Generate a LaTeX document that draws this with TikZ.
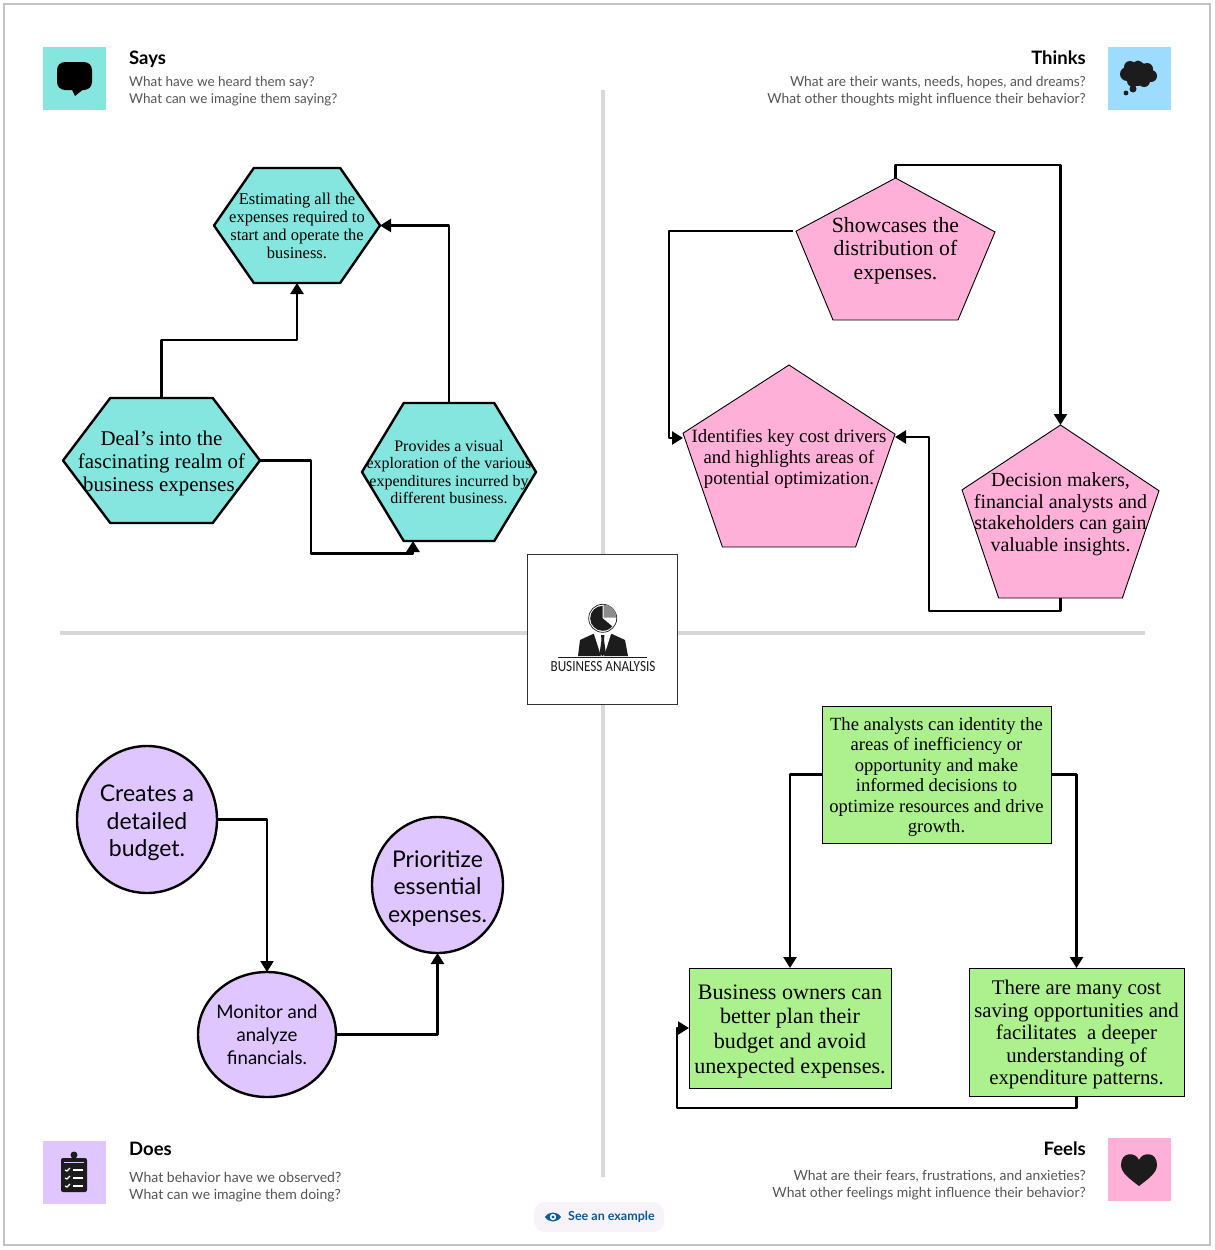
\documentclass[tikz,border=0pt]{standalone}
\usepackage{fontspec}
\usepackage{xcolor}
\usetikzlibrary{arrows.meta,positioning,shapes.geometric,calc,backgrounds}
\setmainfont{Liberation Serif}
\setsansfont{Lato}
\newfontfamily\logofont{Carlito}
\definecolor{Teal}{HTML}{84E6DE}
\definecolor{Sky}{HTML}{9EDCFF}
\definecolor{Lilac}{HTML}{DFC6FF}
\definecolor{Rose}{HTML}{FFB0D8}
\definecolor{Lime}{HTML}{ADF08E}
\definecolor{Rule}{HTML}{D8D8D8}
\definecolor{Frame}{HTML}{C4C2C6}
\definecolor{Ink}{HTML}{1C1C1C}
\definecolor{Muted}{HTML}{555555}
\definecolor{Link}{HTML}{0B5A9C}
\definecolor{Pill}{HTML}{F7F3F8}
\newcommand{\fs}[2]{\fontsize{#1}{#2}\selectfont}
\newcommand{\topgap}[1]{\rule{0pt}{#1pt}}
% outlines behind the text nodes
\newcommand{\hexoutline}[1]{
  \draw[hexline] (#1.west) -- ($(#1.north west)!.24!(#1.north east)$) -- ($(#1.north west)!.76!(#1.north east)$)
    -- (#1.east) -- ($(#1.south west)!.76!(#1.south east)$) -- ($(#1.south west)!.24!(#1.south east)$) -- cycle;
}
\newcommand{\pentoutline}[1]{
  \draw[pentline] (#1.north) -- ($(#1.north east)!.38!(#1.south east)$) coordinate (#1-r)
    -- ($(#1.south east)!.186!(#1.south west)$) -- ($(#1.south west)!.186!(#1.south east)$)
    -- ($(#1.north west)!.375!(#1.south west)$) coordinate (#1-l) -- cycle;
}
\begin{document}
\begin{tikzpicture}[
  x=1pt,y=-1pt,
  hexbox/.style={inner sep=0pt,outer sep=0pt,align=center},
  hexline/.style={draw=black,line width=2.4pt,line join=round,fill=Teal},
  pentbox/.style={inner sep=0pt,outer sep=0pt,align=center},
  pentline/.style={draw=black,line width=0.9pt,fill=Rose},
  boxpurple/.style={ellipse,draw=black,line width=2.4pt,fill=Lilac,inner sep=-14pt,outer sep=0pt,align=center,font=\sffamily\fs{23}{27.5}},
  boxgreen/.style={draw=black,line width=0.9pt,fill=Lime,inner sep=0pt,outer sep=0pt,align=center},
  tile/.style={inner sep=0pt,outer sep=0pt,minimum size=63pt},
  headtext/.style={inner sep=0pt,font=\sffamily\bfseries\fs{18.5}{20},text=black},
  asktext/.style={inner sep=0pt,font=\sffamily\fs{#1}{17},text=Muted},
  arrow/.style={-{Triangle[length=11pt,width=13pt]},line width=2.4pt,draw=black,line join=round}
]
\useasboundingbox (0,0) rectangle (1215,1250);
\begin{scope}[on background layer]
\fill[white] (0,0) rectangle (1215,1250);
\draw[Frame,line width=1.2pt] (4,4) rectangle (1210,1245);
\draw[Rule,line width=3.6pt] (603,90) -- (603,1177);
\draw[Rule,line width=3.6pt] (60,633) -- (1145,633);
\end{scope}
% quadrant headers
\node[tile,fill=Teal] (saystile) at (74.5,78.5) {};
\node[tile,fill=Sky] (thinkstile) at (1139.5,78.5) {};
\node[tile,fill=Lilac] (doestile) at (74.5,1172.5) {};
\node[tile,fill=Rose] (feelstile) at (1139.5,1169.5) {};
\node[headtext,anchor=base west] (sayshead) at (129,64) {Says};
\node[asktext=13.5,anchor=north west,align=left] (saysask) at (129,76.5) {What have we heard them say?\\What can we imagine them saying?};
\node[headtext,anchor=base east] (thinkshead) at (1086,64) {Thinks};
\node[asktext=13.8,anchor=north east,align=right] (thinksask) at (1086,76.5) {What are their wants, needs, hopes, and dreams?\\What other thoughts might influence their behavior?};
\node[headtext,anchor=base west] (doeshead) at (129,1155) {Does};
\node[asktext=14,anchor=north west,align=left] (doesask) at (129,1172) {What behavior have we observed?\\What can we imagine them doing?};
\node[headtext,anchor=base east] (feelshead) at (1086,1155) {Feels};
\node[asktext=13.9,anchor=north east,align=right] (feelsask) at (1086,1170) {What are their fears, frustrations, and anxieties?\\What other feelings might influence their behavior?};
% icons
\fill[black,rounded corners=8pt] (57,62) rectangle (92,90);
\fill[black] (71,88) -- (75,96) -- (85,88) -- cycle;
\fill[Ink] (1138,74) circle (12pt) (1127,74) circle (7pt) (1130,67) circle (6pt) (1138,66) circle (5.5pt)
  (1147,69) circle (6pt) (1151,76) circle (6pt) (1144,81) circle (6pt) (1133,81) circle (6pt)
  (1133,89) circle (3.5pt) (1126,93) circle (2.4pt);
\fill[Ink,rounded corners=2pt] (61,1158) rectangle (87,1192);
\fill[Ink] (74,1155) circle (3.5pt);
\draw[Lilac,line width=1pt] (64,1162) -- (84,1162);
\foreach \yy in {1170,1178,1186}{
  \draw[white,line width=1.3pt] (65,\yy) -- (67,\yy+1) -- (70,\yy-2);
  \draw[white,line width=1.3pt] (73,\yy) -- (83,\yy);
}
\fill[Ink] (1139,1186) .. controls (1130,1179) and (1121,1173) .. (1121,1165)
  .. controls (1121,1151) and (1136,1152) .. (1139,1160)
  .. controls (1142,1152) and (1157,1151) .. (1157,1165)
  .. controls (1157,1173) and (1148,1179) .. (1139,1186) -- cycle;
% centre logo
\node[draw=black!80,line width=0.9pt,fill=white,minimum size=150pt,inner sep=0pt,outer sep=0pt] (logo) at (602.8,629.8) {};
\draw[Ink,line width=0.7pt] (602.7,618.3) circle (14pt);
\fill[Ink] (602.7,618.3) -- ++(90:12.5pt) arc[start angle=90,delta angle=230,radius=12.5pt] -- cycle;
\fill[black!45] (603.5,617.5) -- ++(90:13pt) arc[start angle=90,delta angle=-90,radius=13pt] -- cycle;
\fill[Ink] (578,656) -- (580,640) -- (593,634) -- (612,634) -- (625,640) -- (628,656) -- cycle;
\fill[white] (594,634) -- (611,634) -- (604,656) -- (601,656) -- cycle;
\fill[Ink] (601,635) -- (604.5,635) -- (604,640) -- (606,654) -- (602.5,656) -- (599.5,654) -- (601.5,640) -- cycle;
\draw[Ink,line width=0.9pt] (558,657) -- (647,657);
\node[inner sep=0pt,font=\logofont\fs{15.5}{16},text=Ink] (logotext) at (603,667) {\scalebox{.85}[1]{BUSINESS ANALYSIS}};
% says
\node[hexbox,minimum width=166pt,minimum height=115pt,font=\fs{16.5}{18}] (est) at (297,225.5) {Estimating all the\\expenses required to\\start and operate the\\business.};
\node[hexbox,minimum width=197pt,minimum height=125pt,font=\fs{20.9}{23}] (deal) at (161.5,460.5) {\topgap{20.1}Deal's into the\\fascinating realm of\\business expenses.};
\node[hexbox,minimum width=174pt,minimum height=138pt,font=\fs{16}{17.5}] (prov) at (449,472) {Provides a visual\\exploration of the various\\expenditures incurred by\\different business.};
% thinks
\node[pentbox,minimum width=199pt,minimum height=142pt,font=\fs{21.7}{23.2}] (show) at (895.5,249) {\topgap{18.5}Showcases the\\distribution of\\expenses.};
\node[pentbox,minimum width=212pt,minimum height=182pt,font=\fs{18.8}{21}] (iden) at (789,456) {\topgap{18.7}Identifies key cost drivers\\and highlights areas of\\potential optimization.};
\node[pentbox,minimum width=197pt,minimum height=173pt,font=\fs{20}{21.6}] (deci) at (1060.5,511.5) {\topgap{19.1}Decision makers,\\financial analysts and\\stakeholders can gain\\valuable insights.};
% does
\node[boxpurple,minimum width=140pt,minimum height=147pt] (crea) at (147,819.5) {\topgap{23.3}Creates a\\detailed\\budget.};
\node[boxpurple,minimum width=131pt,minimum height=136pt] (prio) at (437.5,885) {\topgap{23.3}Prioritize\\essential\\expenses.};
\node[boxpurple,minimum width=138pt,minimum height=125pt,font=\sffamily\fs{18.6}{23}] (moni) at (267,1034.5) {Monitor and\\analyze\\financials.};
% feels
\node[boxgreen,minimum width=229pt,minimum height=137pt,font=\fs{18.6}{20.5}] (anal) at (936.5,774.5) {\topgap{18.4}The analysts can identity the\\areas of inefficiency or\\opportunity and make\\informed decisions to\\optimize resources and drive\\growth.};
\node[boxgreen,minimum width=202pt,minimum height=120pt,font=\fs{22.1}{24.6}] (owner) at (790,1028) {\topgap{21.2}Business owners can\\better plan their\\budget and avoid\\unexpected expenses.};
\node[boxgreen,minimum width=215pt,minimum height=128pt,font=\fs{20.8}{22.6}] (there) at (1076.5,1032) {\topgap{19.8}There are many cost\\saving opportunities and\\facilitates\ \ a deeper\\understanding of\\expenditure patterns.};
% footer
\node[fill=Pill,rounded corners=11pt,minimum width=130pt,minimum height=30pt,inner sep=0pt] (pill) at (599,1217) {};
\node[anchor=west,inner sep=0pt,font=\sffamily\bfseries\fs{12.5}{13},text=Link] (pilltext) at (568,1217) {See an example};
\fill[Link] (545,1217) .. controls (549,1211) and (557,1211) .. (561,1217) .. controls (557,1223) and (549,1223) .. (545,1217) -- cycle;
\fill[white] (553,1217) circle (3.2pt);
\fill[Link] (553,1217) circle (1.6pt);
\begin{scope}[on background layer]
\hexoutline{est}
\hexoutline{deal}
\hexoutline{prov}
\pentoutline{show}
\pentoutline{iden}
\pentoutline{deci}
\end{scope}
\coordinate (kneeest) at (297,340);
\coordinate (kneedeal) at (311,553.5);
\coordinate (kneeprov) at (413,553.5);
\coordinate (kneeiden) at (669,438);
\coordinate (kneedeci) at (929,437);
\coordinate (kneeowner) at (677,1028);
\draw[arrow] (deal.north) |- (kneeest) -- (est.south);
\draw[arrow] (prov.north) |- (est.east);
\draw[arrow] (deal.east) -| (kneedeal) -- (kneeprov) -- (kneeprov |- prov.south);
\draw[arrow] (show.north) -- ++(0,-13) -| (deci.north);
\draw[arrow,shorten <=3pt] (show-l) -| (kneeiden) -- (iden.west |- kneeiden);
\draw[arrow] (deci.south) -- ++(0,13) -| (kneedeci) -- (iden.east |- kneedeci);
\draw[arrow] (crea.east) -| (moni.north);
\draw[arrow] (moni.east) -| (prio.south);
\draw[arrow] (anal.west) -| (owner.north);
\draw[arrow] (anal.east) -| (there.north);
\draw[arrow] (there.south) -- ++(0,12) -| (kneeowner) -- (owner.west);
\end{tikzpicture}
\end{document}
